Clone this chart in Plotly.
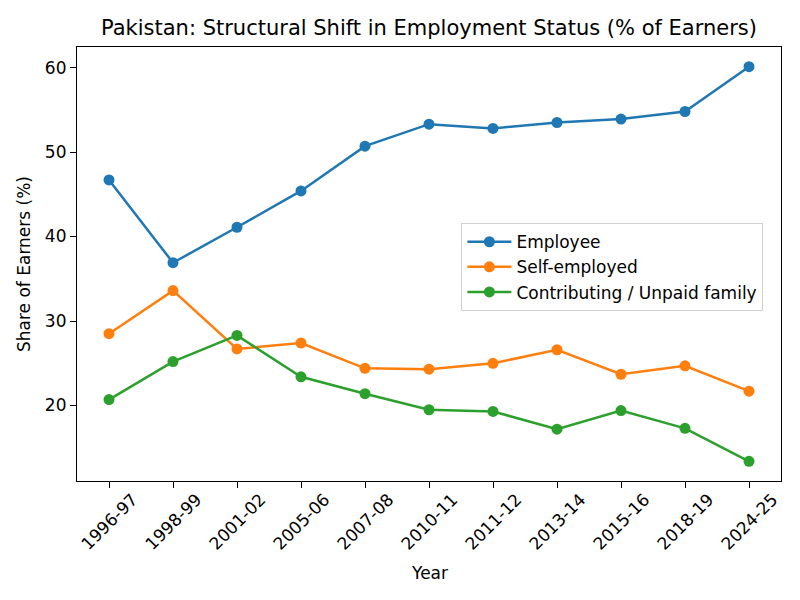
import plotly.graph_objects as go

years = ["1996-97", "1998-99", "2001-02", "2005-06", "2007-08", "2010-11",
         "2011-12", "2013-14", "2015-16", "2018-19", "2024-25"]
employee = [46.7, 36.9, 41.1, 45.4, 50.7, 53.3, 52.8, 53.5, 53.9, 54.8, 60.1]
self_employed = [28.5, 33.6, 26.7, 27.4, 24.4, 24.3, 25.0, 26.6, 23.7, 24.7, 21.7]
contributing = [20.7, 25.2, 28.3, 23.4, 21.4, 19.5, 19.3, 17.2, 19.4, 17.3, 13.4]

series = [
    ("Employee", employee, "#1f77b4"),
    ("Self-employed", self_employed, "#ff7f0e"),
    ("Contributing / Unpaid family", contributing, "#2ca02c"),
]

xpos = list(range(len(years)))
FONT = "DejaVu Sans"
FS = 17

fig = go.Figure()
for name, vals, color in series:
    fig.add_trace(go.Scatter(
        x=xpos, y=vals, name=name, mode="lines+markers",
        line=dict(color=color, width=2.5),
        marker=dict(color=color, size=11),
    ))

allv = employee + self_employed + contributing
lo, hi = min(allv), max(allv)
pad = (hi - lo) * 0.05

annotations = []
for i, lab in enumerate(years):
    annotations.append(dict(
        x=i, y=0, xref="x", yref="paper", text=lab, showarrow=False,
        textangle=-45, xanchor="center", yanchor="top", yshift=-6,
        font=dict(family=FONT, size=FS, color="black"),
    ))
annotations.append(dict(x=0.5, y=0, xref="paper", yref="paper", text="Year",
                        showarrow=False, yshift=-80, yanchor="top",
                        font=dict(family=FONT, size=FS, color="black")))

fig.update_layout(
    width=800, height=600,
    paper_bgcolor="white", plot_bgcolor="white",
    margin=dict(l=69, r=27, t=39, b=127),
    font=dict(family=FONT, size=FS, color="black"),
    title=dict(text="Pakistan: Structural Shift in Employment Status (% of Earners)",
               x=0.5, xanchor="center", xref="paper", y=1, yref="container",
               yanchor="top", pad=dict(t=12),
               font=dict(family=FONT, size=21, color="black")),
    showlegend=True,
    legend=dict(x=0.546, y=0.594, xanchor="left", yanchor="top",
                bgcolor="rgba(255,255,255,0.8)", bordercolor="#d0d0d0",
                borderwidth=1, font=dict(family=FONT, size=FS),
                itemwidth=44, tracegroupgap=0),
    annotations=annotations,
)
fig.update_xaxes(
    range=[-0.5, len(years) - 0.5], tickvals=xpos,
    showticklabels=False, automargin=False,
    showline=True, linecolor="black", linewidth=1.2, mirror=True,
    ticks="outside", ticklen=6, tickcolor="black", tickwidth=1.2,
    showgrid=False, zeroline=False,
)
fig.update_yaxes(
    range=[lo - pad, hi + pad], tickvals=[20, 30, 40, 50, 60], automargin=False,
    showline=True, linecolor="black", linewidth=1.2, mirror=True,
    ticks="outside", ticklen=6, tickcolor="black", tickwidth=1.2,
    showgrid=False, zeroline=False,
    tickfont=dict(family=FONT, size=FS),
    title=dict(text="Share of Earners (%)", standoff=9, font=dict(family=FONT, size=FS)),
)

fig.write_html("out.html")
